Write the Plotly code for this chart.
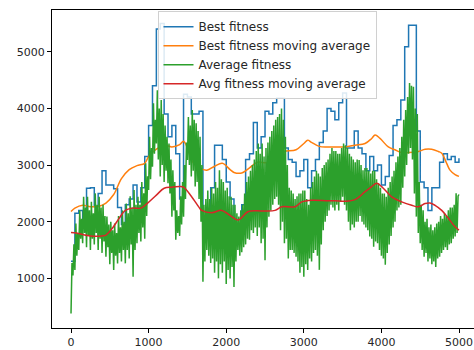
import plotly.graph_objects as go

# Best fitness (step values, every 50 generations)
best_gen = list(range(0, 5000, 50)) + [4999]
best_val = [1300, 2150, 2200, 1970, 2590, 2600, 2270, 2500, 2900, 2650,
            2650, 2580, 2250, 1950, 2300, 2400, 2650, 2350, 2600, 3150,
            3700, 4400, 5400, 5500, 3900, 3500, 3700, 3200, 2400, 4250,
            4200, 3900, 3900, 3950, 2100, 2000, 2600, 3350, 3350, 3100,
            2700, 2400, 1900, 1750, 2300, 3100, 3200, 3750, 3300, 3500,
            3950, 3900, 4100, 4180, 4180, 3300, 3100, 3050, 2800, 2900,
            3100, 2600, 2900, 3100, 3400, 3600, 4000, 3950, 3800, 4100,
            4270, 3300, 3300, 3600, 3300, 3200, 2900, 3150, 2900, 3000,
            2650, 2800, 3170, 3700, 3800, 4150, 5090, 5470, 5470, 3600,
            2700, 2600, 2200, 2600, 2600, 3050, 3200, 3100, 3150, 3050,
            3120]

# Best fitness moving average
bma_gen = [0, 50, 150, 250, 350, 450, 550, 650, 750, 850, 950, 1000, 1100, 1200,
           1300, 1400, 1450, 1500, 1550, 1600, 1650, 1750, 1850, 1950, 2050, 2100,
           2200, 2300, 2400, 2500, 2600, 2650, 2700, 2750, 2900, 3000, 3050, 3100,
           3200, 3300, 3402, 3531, 3660, 3789, 3875, 3918, 3982, 4089, 4175, 4261,
           4347, 4476, 4562, 4648, 4734, 4777, 4841, 4884, 4949, 4999]
bma_val = [2180, 2240, 2290, 2265, 2270, 2330, 2480, 2760, 2920, 2990, 3030, 3150, 3280, 3350,
           3320, 3360, 3420, 3300, 3100, 3000, 2950, 2910, 2980, 3030, 2920, 2870,
           2860, 2950, 3050, 3040, 3030, 3030, 3200, 3240, 3270, 3380, 3440, 3400,
           3330, 3320, 3320, 3320, 3350, 3380, 3470, 3530, 3470, 3320, 3270, 3220,
           3220, 3240, 3280, 3280, 3240, 3210, 3030, 2910, 2830, 2800]

# Average fitness (every 12.5 generations: trough, peak, trough, peak per 50 generations)
avg_gen = [i * 12.5 for i in range(400)] + [4999]
avg_val = [
    380, 1270, 1050, 1600,   1150, 1970, 1400, 1800,   1500, 2200, 1700, 2050,
    1620, 2440, 1800, 2250,  1550, 2440, 1750, 2200,   1500, 2350, 1700, 2150,
    1600, 2500, 1800, 2300,  1500, 2440, 1700, 2250,   1450, 2300, 1650, 2100,
    1380, 2090, 1550, 1950,  1250, 2000, 1450, 1850,   1150, 1970, 1400, 1800,
    1265, 2100, 1450, 1900,  1300, 2200, 1500, 2000,   1265, 2320, 1500, 2150,
    1350, 2450, 1600, 2250,  1030, 2560, 1500, 2300,   1620, 2440, 1800, 2300,
    1650, 2700, 1900, 2500,  1700, 3030, 2100, 2800,   2560, 3500, 2750, 3300,
    2970, 4090, 3200, 3800,  3380, 4320, 3100, 4000,   2800, 4150, 3000, 3900,
    2700, 3700, 2900, 3500,  2680, 3380, 2500, 3100,   2090, 2910, 2200, 2700,
    1680, 2200, 1800, 2100,  1750, 2450, 1950, 2700,   2090, 3000, 2400, 3400,
    3090, 3850, 3000, 3700,  2800, 3970, 2900, 3800,   2620, 3740, 2700, 3600,
    2400, 3500, 2000, 3000,  940, 2300, 1300, 2400,    1500, 2550, 1400, 2400,
    1270, 2600, 1350, 2500,  1100, 2700, 1300, 2600,   1000, 2910, 1250, 2750,
    1100, 2700, 1300, 2550,  900, 2600, 1150, 2450,    1000, 2440, 1200, 2300,
    850, 2300, 1300, 2150,   1500, 2090, 1400, 2200,   1460, 2300, 1550, 2500,
    1600, 2700, 1700, 2800,  1680, 2900, 1850, 3000,   1800, 3100, 1900, 3250,
    1750, 3380, 1900, 3200,  1620, 3380, 1700, 3150,   1320, 3300, 1900, 3400,
    2090, 3500, 2200, 3600,  2300, 3700, 2400, 3800,   2440, 3850, 2300, 3900,
    1850, 4000, 2000, 3800,  1620, 3500, 1700, 3000,   1350, 2600, 1500, 2550,
    1500, 2500, 1450, 2400,  1380, 2450, 1300, 2500,   1100, 2500, 1200, 2550,
    1030, 2550, 1250, 2400,  1150, 2300, 1350, 2600,   1300, 2700, 1450, 2800,
    1500, 2900, 1400, 2850,  1150, 2800, 1600, 2950,   1850, 3000, 2000, 3050,
    2100, 3100, 2200, 3200,  2300, 3300, 2250, 3250,   2200, 3250, 2300, 3200,
    2200, 3200, 2350, 3300,  2440, 3380, 2300, 3350,   2200, 3300, 2000, 3200,
    1850, 3150, 1950, 3100,  1900, 3050, 2000, 3100,   2000, 3090, 2100, 3000,
    2000, 2910, 1950, 2950,  1900, 2950, 1850, 2900,   1740, 2850, 1700, 2900,
    1560, 2900, 1650, 2750,  1620, 2680, 1500, 2600,   1400, 2500, 1350, 2500,
    1240, 2440, 1450, 2600,  1600, 2700, 1750, 2800,   1900, 2900, 2000, 3050,
    2200, 3150, 2250, 3300,  2300, 3500, 2600, 3800,   2800, 3970, 3000, 4200,
    3200, 4450, 3300, 4400,  3100, 4380, 2500, 4000,   2090, 3900, 1800, 2700,
    1620, 2300, 1500, 2200,  1380, 2000, 1450, 2050,   1300, 1900, 1350, 1950,
    1250, 1850, 1300, 1900,  1200, 1970, 1350, 2000,   1380, 2100, 1450, 2050,
    1500, 2150, 1550, 2100,  1500, 2200, 1600, 2250,   1620, 2250, 1700, 2300,
    1740, 2500, 1800, 2450,
    2480]

# Avg fitness moving average
ama_gen = [0, 70, 250, 400, 450, 530, 620, 700, 790, 900, 980, 1100, 1200, 1300,
           1400, 1450, 1550, 1662, 1684, 1813, 1942, 2070, 2156, 2285, 2457, 2629,
           2715, 2887, 2973, 3102, 3316, 3402, 3531, 3660, 3789, 3875, 3939, 4003,
           4132, 4261, 4390, 4476, 4562, 4626, 4691, 4777, 4863, 4949, 4999]
ama_val = [1810, 1800, 1750, 1750, 1765, 1880, 2060, 2200, 2240, 2240, 2320, 2470, 2590, 2610,
           2620, 2610, 2450, 2230, 2200, 2160, 2200, 2090, 2030, 2180, 2190, 2200,
           2265, 2265, 2350, 2380, 2370, 2370, 2360, 2390, 2530, 2620, 2680, 2620,
           2440, 2350, 2290, 2265, 2320, 2330, 2290, 2200, 2060, 1910, 1850]

tick_x = [0, 1000, 2000, 3000, 4000, 5000]
tick_y = [1000, 2000, 3000, 4000, 5000]

fig = go.Figure()
fig.add_trace(go.Scatter(x=best_gen, y=best_val, mode="lines", name="Best fitness",
                         line=dict(color="#1f77b4", width=1.5, shape="hv")))
fig.add_trace(go.Scatter(x=bma_gen, y=bma_val, mode="lines", name="Best fitness moving average",
                         line=dict(color="#ff7f0e", width=1.5, shape="spline")))
fig.add_trace(go.Scatter(x=avg_gen, y=avg_val, mode="lines", name="Average fitness",
                         line=dict(color="#2ca02c", width=1.5)))
fig.add_trace(go.Scatter(x=ama_gen, y=ama_val, mode="lines", name="Avg fitness moving average",
                         line=dict(color="#d62728", width=1.5, shape="spline")))

fig.update_layout(
    width=474, height=350,
    margin=dict(l=52, r=0, t=10, b=22),
    paper_bgcolor="white", plot_bgcolor="white",
    font=dict(family="DejaVu Sans", size=11, color="#262626"),
    showlegend=True,
    legend=dict(x=0.25, y=0.996, xanchor="left", yanchor="top",
                bgcolor="rgba(255,255,255,0.85)", bordercolor="#d0d0d0", borderwidth=1,
                font=dict(size=12, color="#262626"), tracegroupgap=0),
    xaxis=dict(range=[-245, 5193], tickvals=tick_x, showgrid=False, zeroline=False,
               showline=True, linecolor="black", linewidth=1, mirror=True,
               ticks="outside", ticklen=4, tickcolor="black"),
    yaxis=dict(range=[124, 5737], tickvals=tick_y, showgrid=False, zeroline=False,
               showline=True, linecolor="black", linewidth=1,
               ticks="outside", ticklen=4, tickcolor="black"),
)

fig.write_html("out.html")
